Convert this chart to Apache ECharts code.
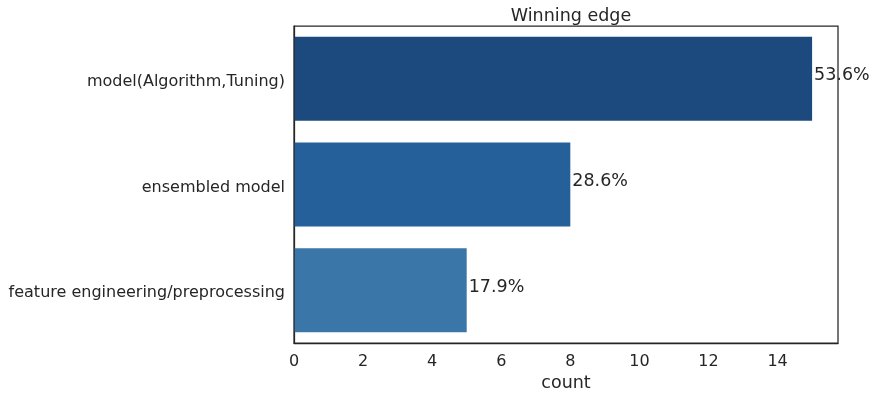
<!DOCTYPE html>
<html><head><meta charset="utf-8">
<script src="https://cdn.jsdelivr.net/npm/echarts@6/dist/echarts.min.js"></script>
<style>html,body{margin:0;padding:0;background:#fff}#c{width:875px;height:399px}</style>
</head><body><div id="c"></div>
<script>
const categories = ["model(Algorithm,Tuning)", "ensembled model", "feature engineering/preprocessing"];
const counts = [15, 8, 5];
const percentLabels = ["53.6%", "28.6%", "17.9%"];
const barColors = ["#1c4a7e", "#26609a", "#3a77a8"];

const chart = echarts.init(document.getElementById('c'), null, {renderer: 'canvas'});
const font = 'DejaVu Sans';
const txt = '#262626';
chart.setOption({
  animation: false,
  backgroundColor: '#fff',
  title: {text: 'Winning edge', left: 566, textAlign: 'center', top: 2,
    textStyle: {fontFamily: font, fontSize: 17.5, fontWeight: 'normal', color: txt}},
  grid: {left: 294, right: 37, top: 26, bottom: 56, containLabel: false, outerBoundsMode: 'none'},
  xAxis: {type: 'value', min: 0, max: 15.75, interval: 2,
    name: 'count', nameLocation: 'middle', nameGap: 31,
    nameTextStyle: {fontFamily: font, fontSize: 17.5, color: txt},
    axisLine: {show: true, lineStyle: {color: txt, width: 1.25}},
    axisTick: {show: false}, splitLine: {show: false},
    axisLabel: {fontFamily: font, fontSize: 16, color: txt, margin: 11,
      formatter: v => (v > 15 ? '' : v)}},
  yAxis: {type: 'category', data: categories, inverse: true,
    axisLine: {show: true, lineStyle: {color: txt, width: 1.25}},
    axisTick: {show: false},
    axisLabel: {color: txt, margin: 9, formatter: v => '{a|' + v + '}',
      rich: {a: {fontFamily: font, fontSize: 16, color: txt, padding: [6, 0, 0, 0]}}}},
  series: [
    {type: 'bar', data: counts.map((v, i) => ({value: v, itemStyle: {color: barColors[i]}})),
     barCategoryGap: '20.5%',
     label: {show: true, position: 'right', distance: 2, offset: [0, -3],
       fontFamily: font, fontSize: 17.5, color: txt,
       formatter: p => percentLabels[p.dataIndex]}}
  ]
});
const g = chart.getModel().getComponent('grid').coordinateSystem.getRect();
chart.setOption({
  title: {left: g.x + g.width / 2, textAlign: 'center'},
  graphic: [{type: 'rect', shape: {x: g.x, y: g.y, width: g.width, height: g.height},
  style: {fill: 'none', stroke: txt, lineWidth: 1.25}, silent: true, z: 10}]});
</script></body></html>
